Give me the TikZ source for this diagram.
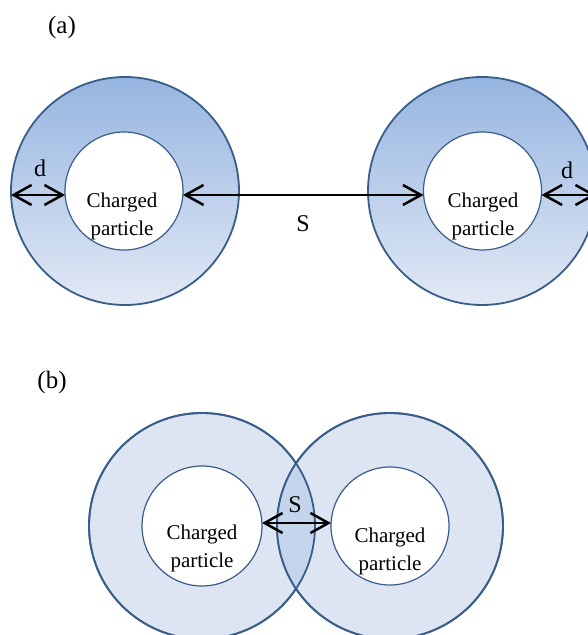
\documentclass[tikz,border=0pt]{standalone}
\usepackage{fontspec}
\setmainfont{Liberation Serif}
\usetikzlibrary{arrows.meta}
\definecolor{rimblue}{RGB}{56,93,138}
\definecolor{shelltop}{RGB}{150,181,224}
\definecolor{shellbot}{RGB}{226,233,245}
\definecolor{shellpale}{RGB}{221,229,242}
\definecolor{overlapblue}{RGB}{196,212,234}

\begin{document}
\begin{tikzpicture}[x=0.5pt,y=-0.5pt,
  shell/.style={circle,draw=rimblue,line width=0.9pt,minimum size=114pt,inner sep=0pt,outer sep=0pt},
  core/.style={circle,draw=rimblue,line width=0.6pt,fill=white,minimum size=59pt,inner sep=0pt,outer sep=0pt},
  lbl/.style={align=center,font=\fontsize{10.5}{14}\selectfont},
  sym/.style={font=\fontsize{12}{14}\selectfont},
  dim/.style={{Straight Barb[length=9pt,width=10pt]}-{Straight Barb[length=9pt,width=10pt]},line width=1.25pt}]
  \useasboundingbox (0,0) rectangle (587,635);

  % (a) particles apart
  \node[font=\fontsize{12.5}{14}\selectfont] (capa) at (62,27) {(a)};
  \node[shell,top color=shelltop,bottom color=shellbot] (oL) at (125,191) {};
  \node[shell,top color=shelltop,bottom color=shellbot] (oR) at (482,191) {};
  \node[core] (pL) at (124,191) {};
  \node[core] (pR) at (482.5,191) {};
  \node[lbl] (tL) at (122,216) {Charged\\particle};
  \node[lbl] (tR) at (483,216) {Charged\\particle};
  \draw[dim] ([yshift=-2pt]oL.west) -- ([yshift=-2pt]pL.west);
  \draw[dim] ([yshift=-2pt]pL.east) -- ([yshift=-2pt]pR.west);
  \draw[dim] ([yshift=-2pt]pR.east) -- ([yshift=-2pt]oR.east);
  \node[sym] (dL) at (40,168) {d};
  \node[sym] (dR) at (567,170) {d};
  \node[sym] (sA) at (303,224) {S};

  % (b) shells overlap
  \node[font=\fontsize{12.5}{14}\selectfont] (capb) at (52,382) {(b)};
  \node[shell,fill=shellpale,minimum size=113pt] (oBL) at (202,526) {};
  \node[shell,fill=shellpale,minimum size=113pt] (oBR) at (390,526) {};
  \begin{scope}
    \clip (202,526) circle[radius=113];
    \fill[overlapblue] (390,526) circle[radius=113];
  \end{scope}
  \draw[rimblue,line width=0.9pt] (202,526) circle[radius=113];
  \draw[rimblue,line width=0.9pt] (390,526) circle[radius=113];
  \node[core,minimum size=60pt] (pBL) at (202,526) {};
  \node[core] (pBR) at (390,526) {};
  \node[lbl] (tBL) at (202,548) {Charged\\particle};
  \node[lbl] (tBR) at (390,551) {Charged\\particle};
  \draw[dim] ([yshift=1.5pt]pBL.east) -- ([yshift=1.5pt]pBR.west);
  \node[sym] (sB) at (295,505) {S};
\end{tikzpicture}
\end{document}
